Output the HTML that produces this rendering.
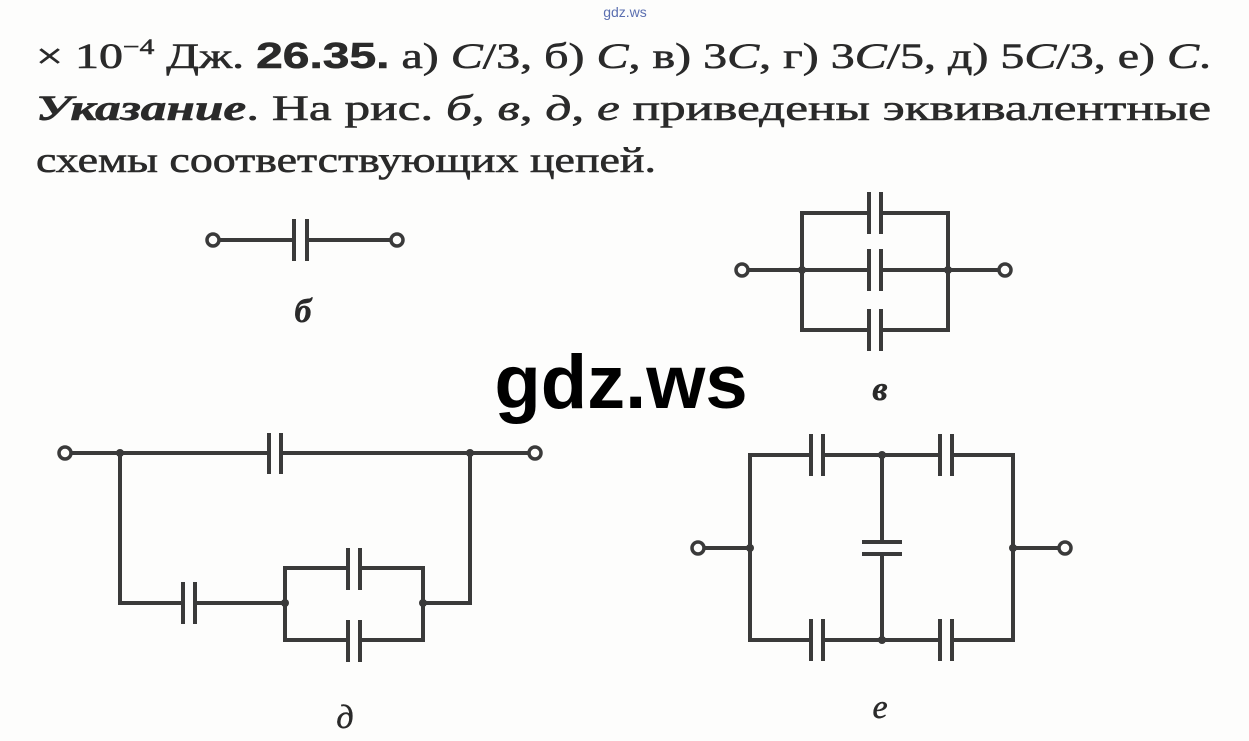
<!DOCTYPE html>
<html><head><meta charset="utf-8"><style>
html,body{margin:0;padding:0;background:#fff;}
body{width:1249px;height:741px;overflow:hidden;position:relative;font-family:"Liberation Serif",serif;}
svg{position:absolute;left:0;top:0;}
</style></head><body>
<svg width="1249" height="741" viewBox="0 0 1249 741">
<rect width="1249" height="741" fill="#fdfdfc"/>
<text x="625" y="17" font-family="Liberation Sans,sans-serif" font-size="14" fill="#5b6fb0" text-anchor="middle">gdz.ws</text>
<g font-family="Liberation Serif,serif" font-size="36" fill="#2a2a2a" stroke="#2a2a2a" stroke-width="0.6">
<text x="36" y="68" textLength="1175" lengthAdjust="spacingAndGlyphs">× 10<tspan font-size="22" dy="-14">−4</tspan><tspan dy="14"> Дж. </tspan><tspan font-family="Liberation Sans,sans-serif" font-weight="bold">26.35.</tspan> а) <tspan font-style="italic">C</tspan>/3, б) <tspan font-style="italic">C</tspan>, в) 3<tspan font-style="italic">C</tspan>, г) 3<tspan font-style="italic">C</tspan>/5, д) 5<tspan font-style="italic">C</tspan>/3, е) <tspan font-style="italic">C</tspan>.</text>
<text x="36" y="120" textLength="1175" lengthAdjust="spacingAndGlyphs"><tspan font-weight="bold" font-style="italic">Указание</tspan>. На рис. <tspan font-style="italic">б</tspan>, <tspan font-style="italic">в</tspan>, <tspan font-style="italic">д</tspan>, <tspan font-style="italic">е</tspan> приведены эквивалентные</text>
<text x="36" y="172" textLength="620" lengthAdjust="spacingAndGlyphs">схемы соответствующих цепей.</text>
</g>
<g stroke="#3a3a3a" stroke-width="4" fill="none" stroke-linecap="square">
<line x1="219" y1="240" x2="294" y2="240"/><line x1="307" y1="240" x2="391" y2="240"/>
<line x1="294" y1="221" x2="294" y2="259"/><line x1="307" y1="221" x2="307" y2="259"/>
<rect x="802" y="213" width="146" height="117"/>
<line x1="748" y1="270" x2="999" y2="270"/>
<g stroke="#fdfdfc" stroke-width="10"><line x1="875" y1="205" x2="875" y2="340"/></g>
<line x1="869" y1="194" x2="869" y2="232"/><line x1="881" y1="194" x2="881" y2="232"/>
<line x1="869" y1="251" x2="869" y2="289"/><line x1="881" y1="251" x2="881" y2="289"/>
<line x1="869" y1="311" x2="869" y2="349"/><line x1="881" y1="311" x2="881" y2="349"/>
<line x1="71" y1="453" x2="529" y2="453"/>
<line x1="120" y1="453" x2="120" y2="603"/><line x1="470" y1="453" x2="470" y2="603"/>
<line x1="120" y1="603" x2="285" y2="603"/>
<rect x="285" y="568" width="138" height="72"/>
<line x1="423" y1="603" x2="470" y2="603"/>
<g stroke="#fdfdfc" stroke-width="10"><line x1="275" y1="445" x2="275" y2="461"/><line x1="188" y1="595" x2="188" y2="611"/><line x1="355" y1="560" x2="355" y2="576"/><line x1="355" y1="632" x2="355" y2="648"/></g>
<line x1="269" y1="435" x2="269" y2="472"/><line x1="281" y1="435" x2="281" y2="472"/>
<line x1="183" y1="584" x2="183" y2="622"/><line x1="195" y1="584" x2="195" y2="622"/>
<line x1="348" y1="550" x2="348" y2="588"/><line x1="360" y1="550" x2="360" y2="588"/>
<line x1="348" y1="622" x2="348" y2="660"/><line x1="360" y1="622" x2="360" y2="660"/>
<rect x="750" y="455" width="263" height="185"/>
<line x1="882" y1="455" x2="882" y2="640"/>
<line x1="704" y1="548" x2="750" y2="548"/><line x1="1013" y1="548" x2="1059" y2="548"/>
<g stroke="#fdfdfc" stroke-width="10"><line x1="817" y1="447" x2="817" y2="463"/><line x1="946" y1="447" x2="946" y2="463"/><line x1="817" y1="632" x2="817" y2="648"/><line x1="946" y1="632" x2="946" y2="648"/><line x1="874" y1="548" x2="890" y2="548"/></g>
<line x1="811" y1="436" x2="811" y2="474"/><line x1="823" y1="436" x2="823" y2="474"/>
<line x1="940" y1="436" x2="940" y2="474"/><line x1="952" y1="436" x2="952" y2="474"/>
<line x1="811" y1="621" x2="811" y2="659"/><line x1="823" y1="621" x2="823" y2="659"/>
<line x1="940" y1="621" x2="940" y2="659"/><line x1="952" y1="621" x2="952" y2="659"/>
<line x1="864" y1="542" x2="900" y2="542"/><line x1="864" y1="554" x2="900" y2="554"/>
</g>
<g fill="#fdfdfc" stroke="#3a3a3a" stroke-width="3.5">
<circle cx="213" cy="240" r="6"/><circle cx="397" cy="240" r="6"/>
<circle cx="742" cy="270" r="6"/><circle cx="1005" cy="270" r="6"/>
<circle cx="65" cy="453" r="6"/><circle cx="535" cy="453" r="6"/>
<circle cx="698" cy="548" r="6"/><circle cx="1065" cy="548" r="6"/>
</g>
<g fill="#3a3a3a">
<circle cx="802" cy="270" r="4"/><circle cx="948" cy="270" r="4"/>
<circle cx="120" cy="453" r="4"/><circle cx="470" cy="453" r="4"/>
<circle cx="285" cy="603" r="4"/><circle cx="423" cy="603" r="4"/>
<circle cx="750" cy="548" r="4"/><circle cx="1013" cy="548" r="4"/>
<circle cx="882" cy="455" r="4"/><circle cx="882" cy="640" r="4"/>
</g>
<g font-family="Liberation Serif,serif" font-size="34" font-style="italic" fill="#2a2a2a" text-anchor="middle" stroke="#2a2a2a" stroke-width="0.5">
<text x="303" y="322" font-weight="bold">б</text>
<text x="880" y="400" font-weight="bold">в</text>
<text x="345" y="728">д</text>
<text x="880" y="718">е</text>
</g>
<text x="621" y="408" font-family="Liberation Sans,sans-serif" font-size="76" font-weight="bold" fill="#000" text-anchor="middle">gdz.ws</text>
</svg>
</body></html>
